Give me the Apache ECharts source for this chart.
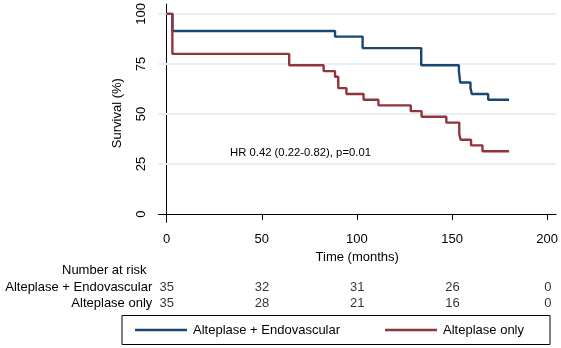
<!DOCTYPE html>
<html><head><meta charset="utf-8">
<script src="https://cdn.jsdelivr.net/npm/echarts@6/dist/echarts.min.js"></script>
<style>html,body{margin:0;padding:0;background:#fff}#c{width:561px;height:348px}</style>
</head><body><div id="c"></div>
<script>
// Kaplan-Meier step data (months, survival %)
const comboTimes = [0, 3, 88.5, 103, 133.8, 153.6, 154.3, 159.7, 160.4, 169, 180];
const comboSurv  = [100, 91.4, 88.6, 82.9, 74.3, 71.4, 65.7, 62.9, 60.0, 57.1, 57.1];
const onlyTimes  = [0, 3, 64.4, 82.5, 88.5, 90.2, 94.5, 103.5, 111.3, 128.3, 134, 147, 153.8, 154.5, 160, 166, 180];
const onlySurv   = [100, 80, 74.3, 71.4, 68.6, 62.9, 60, 57.1, 54.3, 51.4, 48.6, 45.7, 40.0, 37.1, 34.3, 31.4, 31.4];
const xTicks = [0, 50, 100, 150, 200];
const yTicks = [0, 25, 50, 75, 100];
const gridYs = [25, 50, 75, 100];
const riskTimes = [0, 50, 100, 150, 200];
const riskCombo = [35, 32, 31, 26, 0];
const riskOnly  = [35, 28, 21, 16, 0];
const nameCombo = 'Alteplase + Endovascular';
const nameOnly = 'Alteplase only';
const hrText = 'HR 0.42 (0.22-0.82), p=0.01';

const FONT = 'Liberation Sans, Arial, sans-serif';
const FS = 13;
const BLUE = '#1a476f', RED = '#90353b';
const GL = 158.3, GW = 398.4;

const chart = echarts.init(document.getElementById('c'), null, {renderer: 'canvas'});
const zip = (a, b) => a.map((v, i) => [v, b[i]]);
const riskData = [];
riskTimes.forEach((t, i) => {
  riskData.push([t, nameCombo, riskCombo[i]]);
  riskData.push([t, nameOnly, riskOnly[i]]);
});

chart.setOption({
  animation: false,
  backgroundColor: '#fff',
  textStyle: {fontFamily: FONT},
  grid: [
    {left: GL, top: 1, width: GW, height: 221.3},
    {left: GL, top: 279, width: GW, height: 32}
  ],
  xAxis: [{
    type: 'value', gridIndex: 0, min: -4.4, max: 204.7,
    name: 'Time (months)', nameLocation: 'middle', nameGap: 27,
    nameTextStyle: {color: '#000', fontSize: FS, fontFamily: FONT},
    axisLine: {show: true, lineStyle: {color: '#000', width: 1}},
    axisTick: {show: true, length: 6, customValues: xTicks, lineStyle: {color: '#000'}},
    axisLabel: {customValues: xTicks, color: '#000', fontSize: FS, margin: 11, fontFamily: FONT},
    splitLine: {show: false}
  }, {
    type: 'value', gridIndex: 1, min: -4.4, max: 204.7,
    axisLine: {show: false}, axisTick: {show: false}, axisLabel: {show: false}, splitLine: {show: false}
  }],
  yAxis: [{
    type: 'value', gridIndex: 0, min: -4.1, max: 104.9,
    name: 'Survival (%)', nameLocation: 'middle', nameGap: 34,
    nameTextStyle: {color: '#000', fontSize: FS, fontFamily: FONT},
    axisLine: {show: true, lineStyle: {color: '#000', width: 1}},
    axisTick: {show: true, length: 6, customValues: yTicks, lineStyle: {color: '#000'}},
    axisLabel: {customValues: yTicks, rotate: 90, color: '#000', fontSize: FS, margin: 10, fontFamily: FONT},
    splitLine: {show: false}
  }, {
    type: 'category', gridIndex: 1, data: [nameOnly, nameCombo],
    axisLine: {show: false}, axisTick: {show: false}, splitLine: {show: false},
    axisLabel: {interval: 0, hideOverlap: false, color: '#000', fontSize: FS, margin: 6, fontFamily: FONT}
  }],
  legend: {
    left: 122, top: 315.5,
    data: [nameCombo, nameOnly],
    orient: 'horizontal',
    icon: 'rect',
    borderColor: '#000', borderWidth: 1, borderRadius: 0,
    padding: [8, 26, 8, 13],
    itemWidth: 52, itemHeight: 2.6, itemGap: 45,
    textStyle: {color: '#000', fontSize: FS, fontFamily: FONT, padding: [0, 0, 0, 1]},
    selectedMode: false
  },
  graphic: [
    {type: 'text', left: 62, top: 264, style: {text: 'Number at risk', fill: '#000', font: FS + 'px ' + FONT}},
    {type: 'text', left: 230, top: 147, style: {text: hrText, fill: '#000', font: '11.3px ' + FONT}}
  ],
  series: [
    {
      type: 'line', xAxisIndex: 0, yAxisIndex: 0, data: [], silent: true, z: 1,
      markLine: {
        silent: true, z: 1, symbol: ['none', 'none'], label: {show: false},
        lineStyle: {color: '#e6eff1', width: 2, type: 'solid'},
        data: gridYs.map(v => ({yAxis: v}))
      }
    },
    {
      name: nameCombo, type: 'line', step: 'end', xAxisIndex: 0, yAxisIndex: 0,
      data: zip(comboTimes, comboSurv), symbol: 'none', z: 6,
      lineStyle: {color: BLUE, width: 2.4}, itemStyle: {color: BLUE}
    },
    {
      name: nameOnly, type: 'line', step: 'end', xAxisIndex: 0, yAxisIndex: 0,
      data: zip(onlyTimes, onlySurv), symbol: 'none', z: 6,
      lineStyle: {color: RED, width: 2.4}, itemStyle: {color: RED}
    },
    {
      type: 'scatter', xAxisIndex: 1, yAxisIndex: 1, data: riskData,
      symbolSize: 1, itemStyle: {color: 'rgba(0,0,0,0)'}, silent: true,
      label: {show: true, position: 'inside', formatter: p => String(p.value[2]),
              color: '#000', fontSize: FS, fontFamily: FONT}
    }
  ]
});
</script>
</body></html>
